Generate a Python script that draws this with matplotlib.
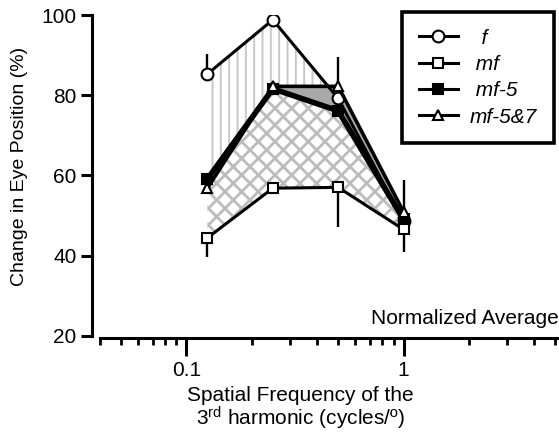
import numpy as np
import matplotlib
matplotlib.use("Agg")
import matplotlib.pyplot as plt
from matplotlib.ticker import FixedLocator, NullFormatter

plt.rcParams["font.family"] = ["Liberation Sans", "DejaVu Sans"]
plt.rcParams["mathtext.default"] = "regular"

# spatial frequency of the 3rd harmonic (cycles/deg)
freq = np.array([0.125, 0.25, 0.5, 1.0])

# change in eye position (%)
f_vals = np.array([85.3, 98.8, 79.2, 48.6])
mf_vals = np.array([44.4, 56.8, 57.0, 46.5])
mf5_vals = np.array([59.1, 81.6, 76.1, 49.0])
mf57_vals = np.array([56.8, 82.2, 82.2, 50.9])

# error bars (one sided, as drawn)
f_err_up = np.array([5.0, 0.0, 10.3, 0.0])
mf_err_down = np.array([4.8, 1.3, 10.0, 5.7])
mf57_err_up = np.array([0.0, 0.0, 0.0, 7.9])

xticks_major = [0.1, 1]
xtick_labels = ["0.1", "1"]
yticks = [20, 40, 60, 80, 100]

fig = plt.figure(figsize=(5.59, 4.33), dpi=100)
ax = fig.add_axes([100 / 559, (433 - 335.7) / 433, 459 / 559, 320.7 / 433])

# shaded regions
upper_mf = np.maximum(mf5_vals, mf57_vals)
with plt.rc_context({"hatch.linewidth": 1.4}):
    ax.fill_between(freq, upper_mf, f_vals, where=f_vals >= upper_mf, interpolate=True,
                    facecolor="none", edgecolor="#c8c8c8", hatch="||", linewidth=0, zorder=1)
lower_mf = np.minimum(mf5_vals, mf57_vals)
with plt.rc_context({"hatch.linewidth": 2.0}):
    ax.fill_between(freq, mf_vals, lower_mf, facecolor="none", edgecolor="#bcbcbc",
                    hatch="xx", linewidth=0, zorder=1)
ax.fill_between(freq, mf5_vals, mf57_vals, where=mf57_vals >= mf5_vals, interpolate=True,
                facecolor="#a8a8a8", linewidth=0, zorder=1.5)

# error bars
ax.errorbar(freq, f_vals, yerr=[np.zeros(4), f_err_up], fmt="none", ecolor="black",
            elinewidth=1.7, capsize=0, zorder=2)
ax.errorbar(freq, mf_vals, yerr=[mf_err_down, np.zeros(4)], fmt="none", ecolor="black",
            elinewidth=1.7, capsize=0, zorder=2)
ax.errorbar(freq, mf57_vals, yerr=[np.zeros(4), mf57_err_up], fmt="none", ecolor="black",
            elinewidth=1.7, capsize=0, zorder=2)

# lines
ax.plot(freq, f_vals, "-o", color="black", lw=2.2, ms=8.5, mfc="white", mec="black",
        mew=1.5, label="  f", zorder=2.8)
ax.plot(freq, mf_vals, "-s", color="black", lw=2.2, ms=7, mfc="white", mec="black",
        mew=1.5, label=" mf", zorder=3.3)
ax.plot(freq, mf5_vals, "-s", color="black", lw=4, ms=7, mfc="black", mec="black",
        mew=1.5, label=" mf-5", zorder=3.1)
ax.plot(freq, mf57_vals, "-^", color="black", lw=2.6, ms=7, mfc="white", mec="black",
        mew=1.5, label="mf-5&7", zorder=3.2)

ax.set_xscale("log")
ax.set_xlim(0.04, 5.2)
ax.set_ylim(20, 100)

ax.xaxis.set_major_locator(FixedLocator(xticks_major))
ax.set_xticklabels(xtick_labels)
minor = [m * d for d in (0.01, 0.1, 1) for m in range(2, 10)]
ax.xaxis.set_minor_locator(FixedLocator(minor))
ax.xaxis.set_minor_formatter(NullFormatter())
ax.set_yticks(yticks)

for s in ("top", "right"):
    ax.spines[s].set_visible(False)
ax.spines["left"].set_position(("outward", 6))
ax.spines["bottom"].set_position(("outward", 1.5))
ax.spines["left"].set_linewidth(2.2)
ax.spines["bottom"].set_linewidth(2.2)
ax.tick_params(axis="x", which="major", length=13, width=2.2, pad=4, labelsize=15)
ax.tick_params(axis="x", which="minor", length=5, width=2.0)
ax.tick_params(axis="y", length=8, width=2.2, pad=3, labelsize=15)

ax.text(1.0, 0.035, "Normalized Average", transform=ax.transAxes, ha="right",
        va="baseline", fontsize=15)

fig.text(20 / 559, (433 - 166) / 433, "Change in Eye Position (%)", rotation=90,
         ha="center", va="center", fontsize=14)
fig.text(300 / 559, 1.5 / 433,
         "Spatial Frequency of the\n3$^{rd}$ harmonic (cycles/º)",
         ha="center", va="bottom", fontsize=15, linespacing=0.95)

handles, labels = ax.get_legend_handles_labels()
leg = ax.legend(handles, labels,
                loc="upper right", bbox_to_anchor=(554 / 559, 421 / 433),
                bbox_transform=fig.transFigure, fancybox=False, framealpha=1,
                edgecolor="black", prop={"style": "italic", "size": 15},
                handlelength=1.85, handletextpad=0.6, labelspacing=0.35,
                borderpad=0.8, borderaxespad=0)
leg.get_frame().set_linewidth(2.6)
for ln in leg.get_lines():
    ln.set_linewidth(2.2)

fig.savefig("out.png", dpi=100)
